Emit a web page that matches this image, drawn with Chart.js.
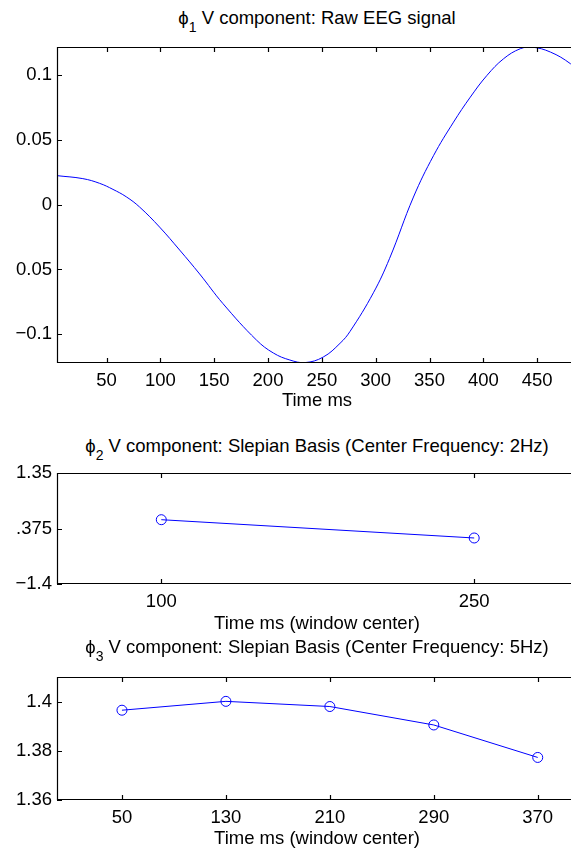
<!DOCTYPE html>
<html lang="en">
<head>
    <meta charset="UTF-8">
    <title>V components</title>
    <script src="https://cdn.jsdelivr.net/npm/chart.js@4.4.1/dist/chart.umd.min.js"></script>
    <style>
        html, body {
            margin: 0;
            padding: 0;
            background: #ffffff;
            width: 571px;
            height: 852px;
            overflow: hidden;
        }

        #page {
            position: relative;
            width: 571px;
            height: 852px;
        }

        #page canvas {
            position: absolute;
            left: 0;
        }

        .lbl {
            position: absolute;
            left: 0;
            width: 634px;
            text-align: center;
            font-family: 'Liberation Sans', Arial, sans-serif;
            font-size: 18.5px;
            line-height: 18.5px;
            color: #000;
            white-space: nowrap;
        }

        .lbl sub {
            font-size: 14px;
            vertical-align: -8px;
            line-height: 0;
        }
    </style>
</head>
<body>

<div id="page">
    <div class="lbl" style="top:9px">&#x3D5;<sub>1</sub> V component: Raw EEG signal</div>
    <canvas id="plot1" width="600" height="356" style="top:37px"></canvas>
    <div class="lbl" style="top:391px">Time ms</div>

    <div class="lbl" style="top:437px">&#x3D5;<sub>2</sub> V component: Slepian Basis (Center Frequency: 2Hz)</div>
    <canvas id="plot2" width="600" height="151" style="top:463px"></canvas>
    <div class="lbl" style="top:614px">Time ms (window center)</div>

    <div class="lbl" style="top:638px">&#x3D5;<sub>3</sub> V component: Slepian Basis (Center Frequency: 5Hz)</div>
    <canvas id="plot3" width="600" height="163" style="top:667px"></canvas>
    <div class="lbl" style="top:829px">Time ms (window center)</div>
</div>

<script>
    // raw EEG trace
    var rawTimes  = [4, 28, 43.5, 56, 68.3, 80.7, 99.3, 117.9, 136.5, 158.2, 189.3, 205, 220.3, 234.3,
                     251.3, 266.9, 276.2, 297.9, 312.8, 335.1, 353.7, 372.3, 387.9, 403.4,
                     418.9, 434.4, 445.3, 462.3, 480.9, 500];
    var rawValues = [0.0224, 0.0201, 0.0165, 0.0118, 0.0061, -0.0018, -0.0173, -0.035, -0.0535, -0.0764,
                     -0.1045, -0.1145, -0.1199, -0.1219, -0.1176, -0.107, -0.0978, -0.068, -0.0417,
                     0.0059, 0.0378, 0.0637, 0.083, 0.0998, 0.1127, 0.1204, 0.1216, 0.1178, 0.1088, 0.095];
    var xTicks1 = [50, 100, 150, 200, 250, 300, 350, 400, 450];
    var yTicks1 = [-0.1, -0.05, 0, 0.05, 0.1];
    var yLabels1 = ['\u22120.1', '0.05', '0', '0.05', '0.1'];

    // 2Hz slepian basis
    var centers2 = [100, 250];
    var values2 = [0.193, -0.26];
    var xTicks2 = [100, 250];
    var yTicks2 = [-1.4, -0.025, 1.35];
    var yLabels2 = ['\u22121.4', '.375', '1.35'];

    // 5Hz slepian basis
    var centers3 = [50, 130, 210, 290, 370];
    var values3 = [1.3965, 1.4001, 1.398, 1.3905, 1.3773];
    var xTicks3 = [50, 130, 210, 290, 370];
    var yTicks3 = [1.36, 1.38, 1.4];
    var yLabels3 = ['1.36', '1.38', '1.4'];

    Chart.defaults.font.family = "'Liberation Sans', Arial, sans-serif";
    Chart.defaults.font.size = 18.5;
    Chart.defaults.color = '#000';

    // matlab style box with ticks pointing inward
    var boxPlugin = {
        id: 'boxPlugin',
        afterDraw: function (chart) {
            var ctx = chart.ctx;
            var a = chart.chartArea;
            var xs = chart.scales.x;
            var ys = chart.scales.y;
            ctx.save();
            ctx.strokeStyle = '#000';
            ctx.lineWidth = 1.2;
            ctx.beginPath();
            ctx.rect(a.left + 0.5, a.top + 0.5, a.right - a.left - 1, a.bottom - a.top - 1);
            xs.ticks.forEach(function (t) {
                var px = Math.round(xs.getPixelForValue(t.value)) + 0.5;
                ctx.moveTo(px, a.bottom);
                ctx.lineTo(px, a.bottom - 5);
                ctx.moveTo(px, a.top);
                ctx.lineTo(px, a.top + 5);
            });
            ys.ticks.forEach(function (t) {
                var py = Math.round(ys.getPixelForValue(t.value)) + 0.5;
                ctx.moveTo(a.left, py);
                ctx.lineTo(a.left + 5, py);
                ctx.moveTo(a.right, py);
                ctx.lineTo(a.right - 5, py);
            });
            ctx.stroke();
            ctx.restore();
        }
    };

    function toPoints(xs, ys) {
        var pts = [];
        for (var i = 0; i < xs.length; i++) {
            pts.push({ x: xs[i], y: ys[i] });
        }
        return pts;
    }

    function makeChart(id, points, markers, xr, yr, xTicks, yTicks, yLabels) {
        var ctx = document.getElementById(id).getContext('2d');
        return new Chart(ctx, {
            type: 'line',
            data: {
                datasets: [{
                    data: points,
                    borderColor: '#0000ff',
                    borderWidth: 1,
                    backgroundColor: 'rgba(0,0,0,0)',
                    pointRadius: markers ? 5 : 0,
                    pointBorderColor: '#0000ff',
                    pointBackgroundColor: 'rgba(0,0,0,0)',
                    pointBorderWidth: 1,
                    tension: markers ? 0 : 0.4
                }]
            },
            options: {
                responsive: false,
                animation: false,
                devicePixelRatio: 1,
                layout: { padding: { top: 10, right: 9, left: 0, bottom: 0 } },
                plugins: { legend: { display: false }, tooltip: { enabled: false } },
                scales: {
                    x: {
                        type: 'linear',
                        min: xr[0],
                        max: xr[1],
                        grid: { display: false, drawTicks: false },
                        border: { display: false },
                        afterBuildTicks: function (scale) {
                            scale.ticks = xTicks.map(function (v) { return { value: v }; });
                        },
                        afterFit: function (scale) {
                            scale.height = 30;
                            scale.paddingLeft = 0;
                            scale.paddingRight = 0;
                        },
                        ticks: {
                            padding: 7,
                            maxRotation: 0,
                            autoSkip: false,
                            callback: function (value, i) { return String(xTicks[i]); }
                        }
                    },
                    y: {
                        min: yr[0],
                        max: yr[1],
                        grid: { display: false, drawTicks: false },
                        border: { display: false },
                        afterBuildTicks: function (scale) {
                            scale.ticks = yTicks.map(function (v) { return { value: v }; });
                        },
                        afterFit: function (scale) {
                            scale.width = 57;
                            scale.paddingTop = 0;
                            scale.paddingBottom = 0;
                        },
                        ticks: {
                            padding: 5,
                            autoSkip: false,
                            callback: function (value, i) { return yLabels[i]; }
                        }
                    }
                }
            },
            plugins: [boxPlugin]
        });
    }

    makeChart('plot1', toPoints(rawTimes, rawValues), false, [4, 500], [-0.1222, 0.1217], xTicks1, yTicks1, yLabels1);
    makeChart('plot2', toPoints(centers2, values2), true, [50, 306], [-1.4, 1.35], xTicks2, yTicks2, yLabels2);
    makeChart('plot3', toPoints(centers3, values3), true, [0, 411], [1.36, 1.41], xTicks3, yTicks3, yLabels3);
</script>
</body>
</html>
